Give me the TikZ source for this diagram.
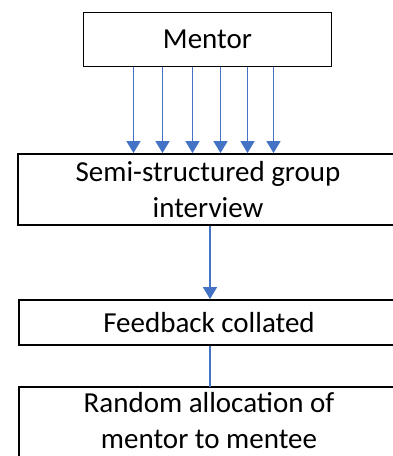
\documentclass[tikz,border=0pt]{standalone}
\usepackage{fontspec}
\setmainfont{Carlito}
\usetikzlibrary{arrows.meta,positioning}
\definecolor{flowblue}{RGB}{68,114,196}
\tikzset{
  boxline/.style={draw=black, line width=1.8pt},
  stagebox/.style={boxline, align=center, inner sep=0pt,
    font=\fontsize{29}{36}\selectfont},
  flow/.style={draw=flowblue, line width=1.1pt},
  flowarrow/.style={flow, -{Triangle[width=14pt,length=12pt]}},
}
\begin{document}
\begin{tikzpicture}[x=1pt,y=-1pt]
  \useasboundingbox (0,0) rectangle (392,456);
  % boxes, top to bottom
  \node[stagebox, minimum width=248pt, minimum height=54pt] (mentor) at (207.5,39.5) {Mentor};
  \node[stagebox, minimum width=380pt, minimum height=71pt] (interview) at (208,189.5) {Semi-structured group\\interview};
  \node[stagebox, minimum width=380pt, minimum height=45pt] (feedback) at (209,322.5) {Feedback collated};
  \node[stagebox, draw=none, minimum width=379pt, minimum height=66pt] (allocation) at (209,421) {Random allocation of\\mentor to mentee};
  % last box runs off the bottom edge
  \draw[boxline] (allocation.north west) rectangle ([yshift=-14pt]allocation.south east);
  % six arrows from the mentor
  \foreach \dx in {-74,-45,-15,13,40,66}
    \draw[flowarrow] ([xshift=\dx pt]mentor.south) -- ([xshift=\dx pt]mentor.south |- interview.north);
  \draw[flowarrow] ([xshift=2pt]interview.south) -- ([xshift=2pt]interview.south |- feedback.north);
  \draw[flow] ([xshift=1pt]feedback.south) -- ([xshift=1pt]feedback.south |- allocation.north);
\end{tikzpicture}
\end{document}
